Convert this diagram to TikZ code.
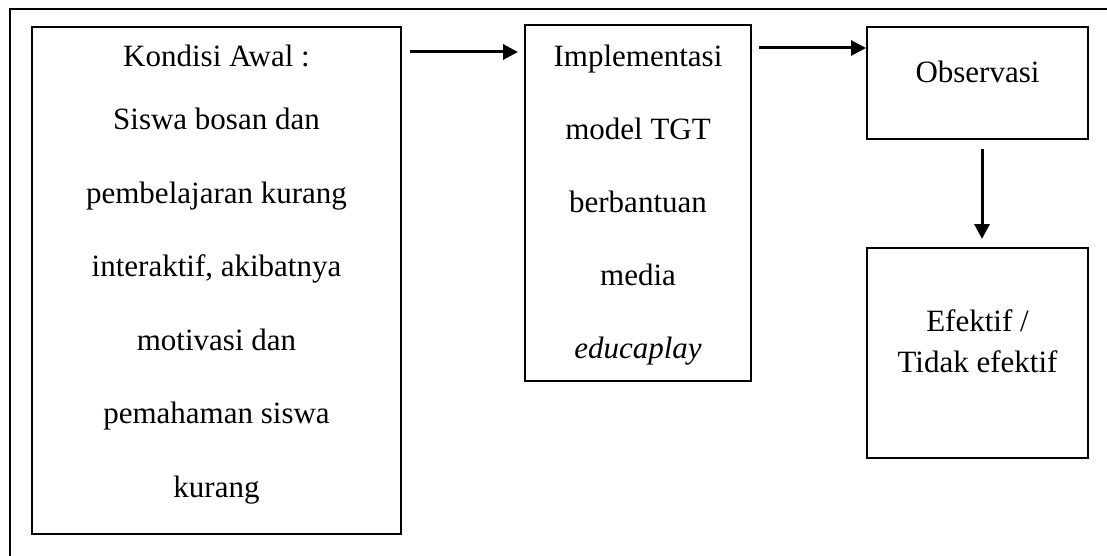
\documentclass[tikz,border=0pt]{standalone}
\usepackage{fontspec}
\setmainfont{Liberation Serif}
\usetikzlibrary{arrows.meta}
\begin{document}
\begin{tikzpicture}[x=1pt,y=-1pt,
  box/.style={draw=black,line width=2pt,inner sep=0pt},
  txt/.style={font=\fontsize{31}{36}\selectfont,inner sep=0pt,anchor=base},
  arr/.style={line width=3pt,-{Triangle[length=15pt,width=15pt]}}]
\useasboundingbox (0,0) rectangle (1107,556);
% outer frame (top and left only)
\draw[line width=2pt] (1107,9) -- (10,9) -- (10,556);
% boxes
\node[box,minimum width=369pt,minimum height=507pt] (b1) at (216.5,280.5) {};
\node[box,minimum width=226pt,minimum height=356pt] (b2) at (638,203) {};
\node[box,minimum width=221pt,minimum height=112pt] (b3) at (977.5,83) {};
\node[box,minimum width=221pt,minimum height=210pt] (b4) at (977.5,353) {};
% texts box 1
\node[txt] (l0) at (216.5,66.7) {Kondisi Awal :};
\foreach \t [count=\i from 1] in {Siswa bosan dan,pembelajaran kurang,{interaktif, akibatnya},motivasi dan,pemahaman siswa,kurang}
  \node[txt] (l\i) at (216.5,{130+73.4*(\i-1)}) {\t};
% texts box 2
\foreach \t [count=\i from 0] in {Implementasi,model TGT,berbantuan,media,\textit{educaplay}}
  \node[txt] (m\i) at (638,{66.7+73*\i}) {\t};
% box 3 and 4
\node[txt] (o1) at (977.5,83) {Observasi};
\node[txt] (e1) at (977.5,331.7) {Efektif /};
\node[txt] (e2) at (977.5,372.7) {Tidak efektif};
% arrows
\coordinate (a1s) at (410,52);
\coordinate (a1e) at (518,52);
\draw[arr] (a1s) -- (a1e);
\coordinate (a2s) at (759,48);
\draw[arr] (a2s) -- (b3.west |- a2s);
\coordinate (a3s) at (982,149);
\coordinate (a3e) at (982,239);
\draw[arr] (a3s) -- (a3e);
\end{tikzpicture}
\end{document}
